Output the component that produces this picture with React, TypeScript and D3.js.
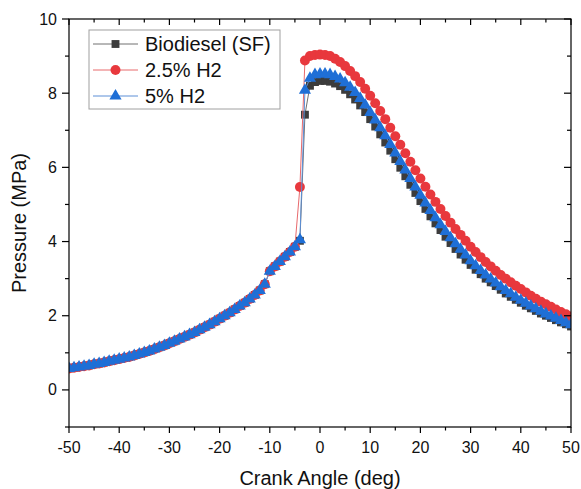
import React from "react";
import * as d3 from "d3";

// Crank angle, deg (one point per degree)
const compressionAngles: number[] = d3.range(-50, -4); // -50 .. -5
const combustionAngles: number[] = d3.range(-4, 51); // -4 .. 50

// Shared compression pressure (MPa), -50 .. -5
const compression: number[] = [
  0.58, 0.6, 0.62, 0.64, 0.66, 0.69, 0.71, 0.74, 0.77, 0.8,
  0.83, 0.86, 0.89, 0.93, 0.97, 1.01, 1.05, 1.1, 1.15, 1.2,
  1.26, 1.31, 1.37, 1.43, 1.49, 1.55, 1.62, 1.69, 1.76, 1.84,
  1.92, 2.0, 2.08, 2.17, 2.26, 2.35, 2.45, 2.56, 2.68, 2.85,
  3.2, 3.33, 3.46, 3.59, 3.72, 3.86,
];

// -4 .. 50
const biodieselSF: number[] = [
  4.02, 7.42, 8.2, 8.3, 8.33, 8.33, 8.31, 8.26, 8.19, 8.09,
  7.97, 7.83, 7.67, 7.49, 7.3, 7.1, 6.89, 6.67, 6.45, 6.22,
  5.99, 5.76, 5.53, 5.31, 5.09, 4.88, 4.68, 4.49, 4.31, 4.13,
  3.96, 3.8, 3.65, 3.51, 3.37, 3.24, 3.12, 3.0, 2.9, 2.8,
  2.7, 2.6, 2.51, 2.43, 2.35, 2.27, 2.2, 2.13, 2.06, 2.0,
  1.94, 1.88, 1.82, 1.77, 1.71,
];
const h2_25: number[] = [
  5.47, 8.88, 9.0, 9.03, 9.04, 9.03, 9.0, 8.93, 8.84, 8.73,
  8.6, 8.46, 8.3, 8.12, 7.93, 7.73, 7.52, 7.3, 7.07, 6.84,
  6.61, 6.38, 6.15, 5.92, 5.7, 5.48, 5.27, 5.07, 4.88, 4.69,
  4.51, 4.34, 4.18, 4.02, 3.86, 3.72, 3.58, 3.45, 3.33, 3.21,
  3.1, 3.0, 2.9, 2.81, 2.72, 2.63, 2.54, 2.46, 2.38, 2.31,
  2.24, 2.17, 2.1, 2.04, 1.98,
];
const h2_5: number[] = [
  4.05, 8.08, 8.4, 8.5, 8.52, 8.52, 8.5, 8.45, 8.38, 8.28,
  8.16, 8.02, 7.86, 7.68, 7.48, 7.28, 7.07, 6.85, 6.62, 6.39,
  6.16, 5.93, 5.7, 5.47, 5.25, 5.04, 4.84, 4.64, 4.45, 4.27,
  4.1, 3.94, 3.79, 3.64, 3.48, 3.35, 3.22, 3.1, 2.99, 2.88,
  2.78, 2.68, 2.59, 2.5, 2.42, 2.34, 2.26, 2.19, 2.12, 2.05,
  1.99, 1.93, 1.87, 1.81, 1.76,
];

const seriesNames = ["Biodiesel (SF)", "2.5% H2", "5% H2"];
const xTicks = [-50, -40, -30, -20, -10, 0, 10, 20, 30, 40, 50];
const yTicks = [0, 2, 4, 6, 8, 10];

const W = 581;
const H = 489;
const M = { left: 69, right: 10, top: 19, bottom: 62 };
const FONT = "Arial, 'Liberation Sans', Helvetica, sans-serif";

type Pt = [number, number];

export default function App() {
  const x = d3.scaleLinear().domain([-50, 50]).range([M.left, W - M.right]);
  const y = d3.scaleLinear().domain([-1, 10]).range([H - M.bottom, M.top]);

  const angles = compressionAngles.concat(combustionAngles);
  const mk = (vals: number[]): Pt[] =>
    angles.map((a, i) => [a, compression.concat(vals)[i]] as Pt);

  const series = [
    { name: seriesNames[0], data: mk(biodieselSF), fill: "#3c3c3c", line: "#707070", shape: d3.symbolSquare, size: 62 },
    { name: seriesNames[1], data: mk(h2_25), fill: "#e8383d", line: "#e86a6d", shape: d3.symbolCircle, size: 78 },
    { name: seriesNames[2], data: mk(h2_5), fill: "#1f6fd6", line: "#5c8fd6", shape: d3.symbolTriangle, size: 64 },
  ];

  const line = d3
    .line<Pt>()
    .x((d) => x(d[0]))
    .y((d) => y(d[1]));

  const x0 = M.left;
  const x1 = W - M.right;
  const y0 = H - M.bottom;
  const y1 = M.top;

  const xMinor = d3.range(-50, 51, 5);
  const yMinor = d3.range(-1, 11, 1);

  return (
    <svg
      width={W}
      height={H}
      style={{ position: "absolute", left: 0, top: 0, background: "#fff" }}
      fontFamily={FONT}
    >
      <defs>
        <clipPath id="plotclip">
          <rect x={x0} y={y1} width={x1 - x0} height={y0 - y1} />
        </clipPath>
      </defs>

      {/* series */}
      <g clipPath="url(#plotclip)">
        {series.map((s) => (
          <g key={s.name}>
            <path d={line(s.data) || ""} fill="none" stroke={s.line} strokeWidth={1} />
            {s.data.map((d, i) => (
              <path
                key={i}
                d={d3.symbol().type(s.shape).size(s.size)() || ""}
                transform={`translate(${x(d[0])},${y(d[1])})`}
                fill={s.fill}
              />
            ))}
          </g>
        ))}
      </g>

      {/* frame */}
      <rect x={x0} y={y1} width={x1 - x0} height={y0 - y1} fill="none" stroke="#000" strokeWidth={1.2} />

      {/* x ticks */}
      {xMinor.map((v) => {
        const major = v % 10 === 0;
        const len = major ? 6 : 3.5;
        return (
          <g key={"xt" + v}>
            <line x1={x(v)} x2={x(v)} y1={y0} y2={y0 + len} stroke="#000" strokeWidth={1.2} />
            <line x1={x(v)} x2={x(v)} y1={y1} y2={y1 + len} stroke="#000" strokeWidth={1.2} />
          </g>
        );
      })}
      {xTicks.map((v) => (
        <text key={"xl" + v} x={x(v)} y={y0 + 26} fontSize={16} textAnchor="middle" fill="#111">
          {v}
        </text>
      ))}

      {/* y ticks */}
      {yMinor.map((v) => {
        const major = v % 2 === 0;
        const len = major ? 7 : 4;
        return (
          <g key={"yt" + v}>
            <line x1={x0 - len} x2={x0} y1={y(v)} y2={y(v)} stroke="#000" strokeWidth={1.2} />
            <line x1={x1 - len} x2={x1} y1={y(v)} y2={y(v)} stroke="#000" strokeWidth={1.2} />
          </g>
        );
      })}
      {yTicks.map((v) => (
        <text key={"yl" + v} x={x0 - 12} y={y(v) + 5.5} fontSize={16} textAnchor="end" fill="#111">
          {v}
        </text>
      ))}

      {/* axis titles */}
      <text x={(x0 + x1) / 2} y={485} fontSize={20} textAnchor="middle" fill="#111">
        Crank Angle (deg)
      </text>
      <text
        transform={`translate(26,${(y0 + y1) / 2}) rotate(-90)`}
        fontSize={20}
        textAnchor="middle"
        fill="#111"
      >
        Pressure (MPa)
      </text>

      {/* legend */}
      <rect x={89} y={30} width={191} height={79} fill="#fff" stroke="#a0a0a0" strokeWidth={1} />
      {series.map((s, i) => {
        const ly = 44 + i * 26;
        return (
          <g key={"lg" + s.name}>
            <line x1={93} x2={138} y1={ly} y2={ly} stroke={s.line} strokeWidth={1} />
            <path
              d={d3.symbol().type(s.shape).size(s.size)() || ""}
              transform={`translate(115.5,${ly})`}
              fill={s.fill}
            />
            <text x={145} y={ly + 7} fontSize={20} fill="#111">
              {s.name}
            </text>
          </g>
        );
      })}
    </svg>
  );
}
